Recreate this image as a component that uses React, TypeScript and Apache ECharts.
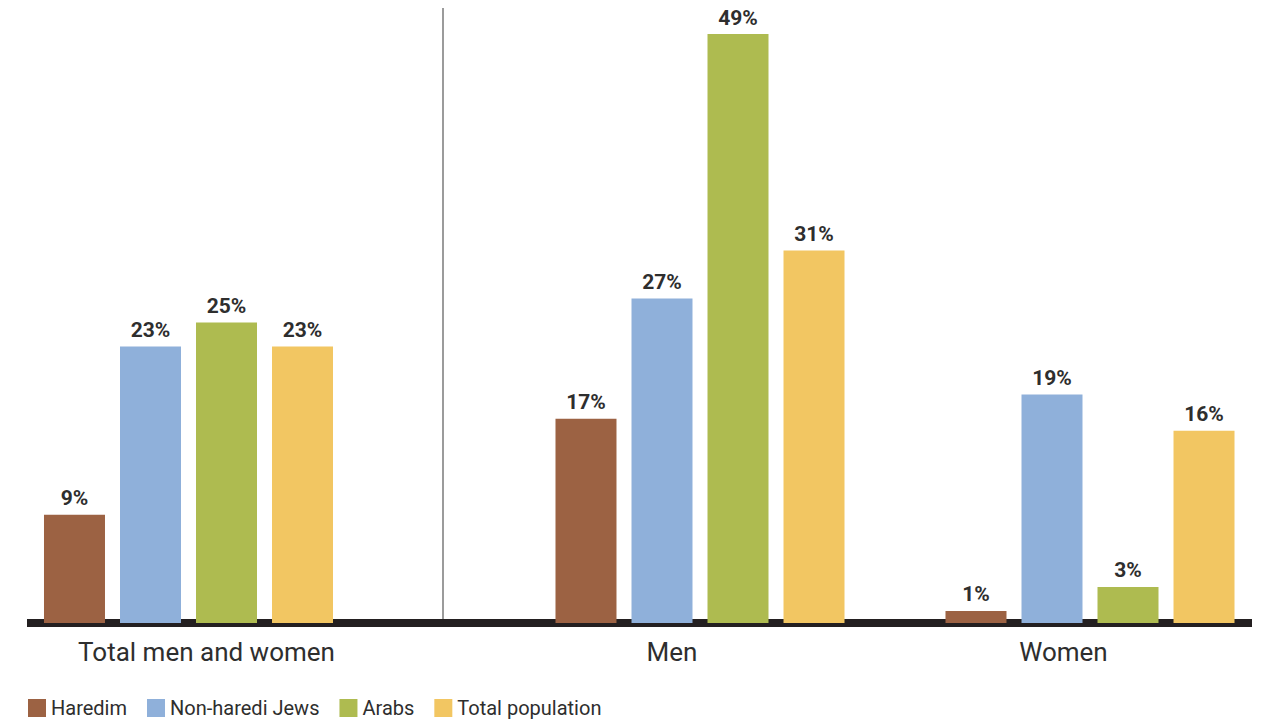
import React, { useEffect, useRef } from "react";
import * as echarts from "echarts";

const categories = ["Total men and women", "Men", "Women"];
const seriesNames = ["Haredim", "Non-haredi Jews", "Arabs", "Total population"];
const haredim = [9, 17, 1];
const nonHarediJews = [23, 27, 19];
const arabs = [25, 49, 3];
const totalPopulation = [23, 31, 16];
const colors = ["#9C6243", "#8FB0DA", "#AEBB50", "#F2C662"];

const seriesValues = [haredim, nonHarediJews, arabs, totalPopulation];

// layout of the three category blocks (left, width) and label shifts
const blocks = [
  { left: 27, width: 323, padding: [0, 0, 0, 36] },
  { left: 443, width: 514, padding: [0, 56, 0, 0] },
  { left: 928, width: 324, padding: [0, 53, 0, 0] },
];

const FONT = "Roboto, 'Open Sans', sans-serif";

export default function App() {
  const ref = useRef<HTMLDivElement>(null);
  useEffect(() => {
    if (!ref.current) return;
    const chart = echarts.init(ref.current, null, { renderer: "svg" });
    const top = 22;
    const height = 601;
    const grids: any[] = blocks.map((b) => ({ left: b.left, width: b.width, top, height }));
    grids.push({ left: 27, width: 1225, top, height });

    const xAxes: any[] = blocks.map((b, i) => ({
      type: "category",
      gridIndex: i,
      data: [categories[i]],
      axisLine: { show: false },
      axisTick: { show: false },
      axisLabel: {
        show: true,
        margin: 16,
        fontSize: 26,
        color: "#2e2e2e",
        fontFamily: FONT,
        padding: b.padding,
      },
    }));
    xAxes.push({
      type: "category",
      gridIndex: 3,
      data: [""],
      offset: 4,
      axisLine: { show: true, lineStyle: { color: "#231f20", width: 8, cap: "butt" } },
      axisTick: { show: false },
      axisLabel: { show: false },
    });
    const yAxes: any[] = [0, 1, 2, 3].map((i) => ({
      type: "value",
      gridIndex: i,
      min: 0,
      max: 50,
      show: false,
      splitLine: { show: false },
    }));

    const series: any[] = [];
    blocks.forEach((_, gi) => {
      seriesNames.forEach((name, si) => {
        series.push({
          type: "bar",
          name,
          xAxisIndex: gi,
          yAxisIndex: gi,
          data: [seriesValues[si][gi]],
          barWidth: 61,
          barGap: "24.6%",
          itemStyle: { color: colors[si] },
          label: {
            show: true,
            position: "top",
            distance: 6,
            formatter: "{c}%",
            fontSize: 21,
            fontWeight: "bold",
            color: "#2e2e2e",
            fontFamily: FONT,
          },
        });
      });
    });

    chart.setOption({
      animation: false,
      backgroundColor: "#ffffff",
      grid: grids,
      xAxis: xAxes,
      yAxis: yAxes,
      legend: {
        data: seriesNames.map((n, i) => ({ name: n, itemStyle: { color: colors[i] } })),
        left: 28,
        top: 698,
        padding: 0,
        icon: "rect",
        itemWidth: 18,
        itemHeight: 18,
        itemGap: 20,
        textStyle: { fontSize: 20, lineHeight: 20, color: "#2e2e2e", fontFamily: FONT },
      },
      graphic: [
        {
          type: "line",
          shape: { x1: 443, y1: 8, x2: 443, y2: 623 },
          style: { stroke: "#7a7a7a", lineWidth: 1.5 },
        },
      ],
      series,
    });
    return () => chart.dispose();
  }, []);
  return (
    <div
      ref={ref}
      style={{ position: "fixed", left: 0, top: 0, width: 1266, height: 723 }}
    />
  );
}
